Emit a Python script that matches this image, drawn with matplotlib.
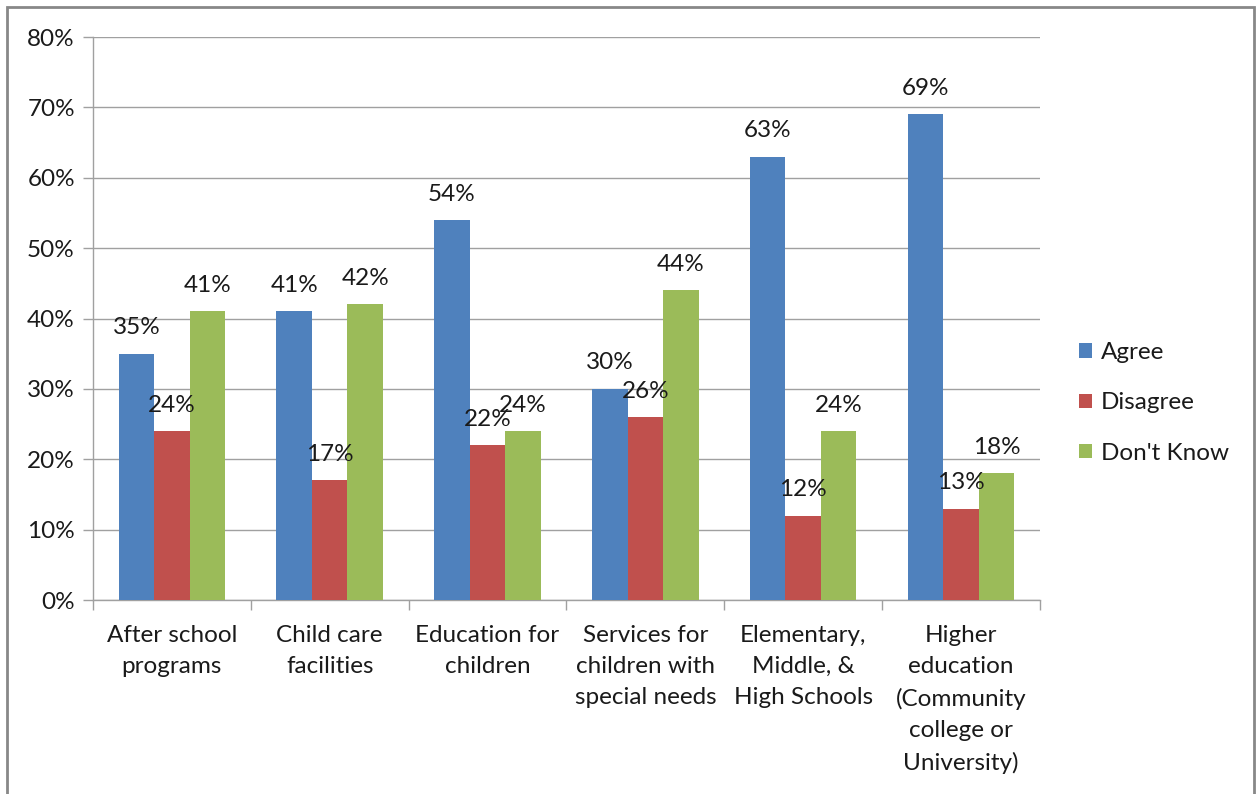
import matplotlib
matplotlib.use("Agg")
import matplotlib.pyplot as plt
import numpy as np
from matplotlib.patches import Rectangle

categories = [
    "After school\nprograms",
    "Child care\nfacilities",
    "Education for\nchildren",
    "Services for\nchildren with\nspecial needs",
    "Elementary,\nMiddle, &\nHigh Schools",
    "Higher\neducation\n(Community\ncollege or\nUniversity)",
]
agree = [35, 41, 54, 30, 63, 69]
disagree = [24, 17, 22, 26, 12, 13]
dont_know = [41, 42, 24, 44, 24, 18]
series_names = ["Agree", "Disagree", "Don't Know"]
colors = ["#4F81BD", "#C0504D", "#9BBB59"]

plt.rcParams["font.family"] = ["Lato", "DejaVu Sans"]
TXT = "#1a1a1a"
GRID = "#a0a0a0"
FS = 17.5

fig = plt.figure(figsize=(12.56, 7.94), dpi=100)
ax = fig.add_axes([0.074, 0.2443, 0.754, 0.7091])

x = np.arange(len(categories))
w = 0.225
for i, (vals, name, c) in enumerate(zip([agree, disagree, dont_know], series_names, colors)):
    pos = x + (i - 1) * w
    ax.bar(pos, vals, width=w, color=c, label=name, zorder=3)
    for p, v in zip(pos, vals):
        ax.text(p, v + 2.2, f"{v}%", ha="center", va="bottom", fontsize=FS, color=TXT, zorder=4)

ax.set_xlim(-0.5, len(categories) - 0.5)
ax.set_ylim(0, 80)
ax.set_yticks(range(0, 81, 10))
ax.set_yticklabels([f"{t}%" for t in range(0, 81, 10)], fontsize=FS, color=TXT)
ax.yaxis.grid(True, color=GRID, linewidth=1.0, zorder=0)
ax.set_xticks(x)
ax.set_xticklabels(categories, fontsize=FS, color=TXT, linespacing=1.6)
ax.tick_params(axis="x", length=0, pad=18)
ax.set_xticks(np.arange(-0.5, len(categories)), minor=True)
ax.tick_params(axis="x", which="minor", length=7, color=GRID, width=1.0)
ax.tick_params(axis="y", length=7, color=GRID, width=1.0, pad=6)
for s in ["top", "right"]:
    ax.spines[s].set_visible(False)
for s in ["left", "bottom"]:
    ax.spines[s].set_color(GRID)
    ax.spines[s].set_linewidth(1.0)

leg = ax.legend(loc="center left", bbox_to_anchor=(1.018, 0.35), frameon=False,
                fontsize=FS, handlelength=0.55, handleheight=0.55, handletextpad=0.35,
                labelspacing=1.2)
for t in leg.get_texts():
    t.set_color(TXT)

# outer chart border
fig.patches.append(Rectangle((0.0056, -0.01), 0.9928, 1.001, transform=fig.transFigure,
                             fill=False, edgecolor="#888888", linewidth=2.0))

fig.savefig("out.png", dpi=100, facecolor="white")
